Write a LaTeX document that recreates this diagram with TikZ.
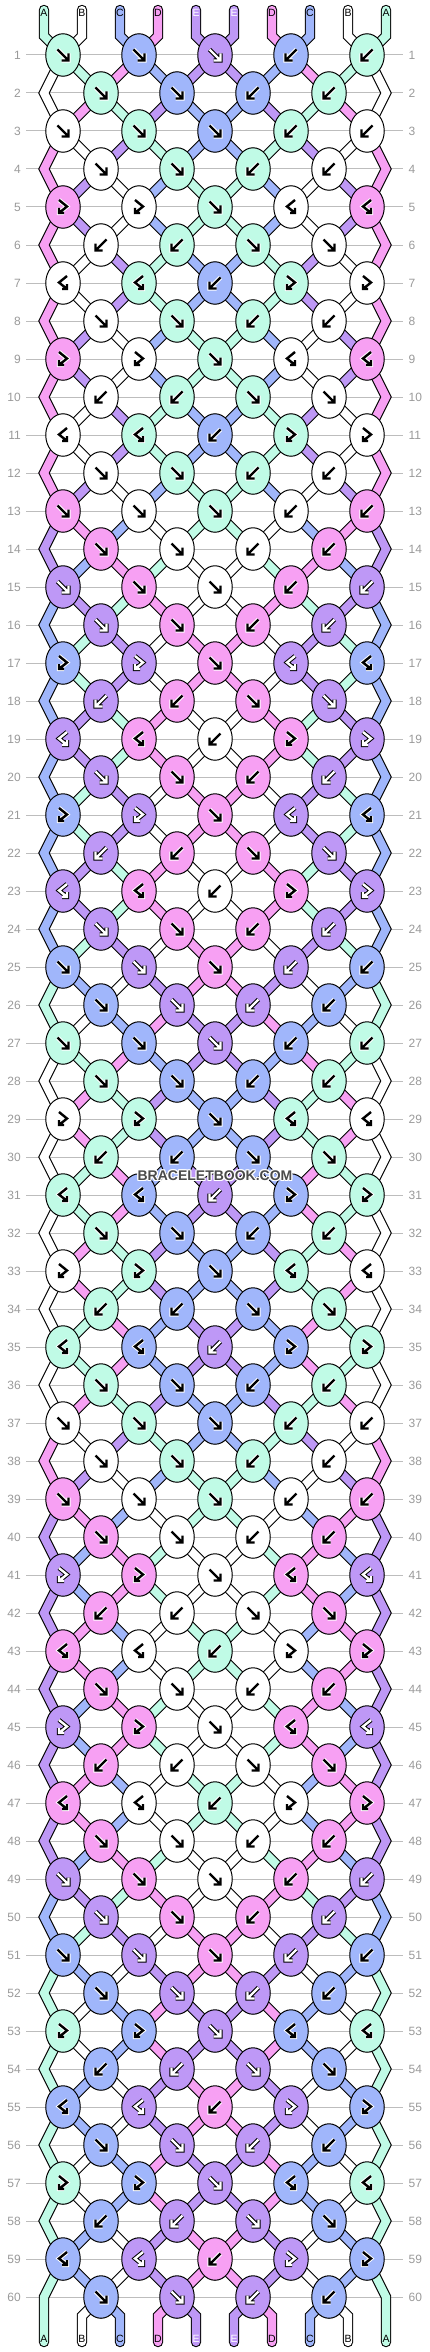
\documentclass[tikz,border=0pt]{standalone}
\usepackage{fontspec}
\setmainfont{Liberation Sans}
\usetikzlibrary{shapes.geometric}
\definecolor{colA}{HTML}{C0FBE6}
\definecolor{colB}{HTML}{FFFFFF}
\definecolor{colC}{HTML}{A0B6FB}
\definecolor{colD}{HTML}{F7A0F3}
\definecolor{colE}{HTML}{BE98F6}
\definecolor{rowgray}{HTML}{BDBDBD}
\definecolor{labgray}{HTML}{9A9A9A}
\definecolor{wmgray}{HTML}{4A4A4A}

\newcount\kx
\newcount\yy
\newcount\pp
\newcount\mm
\newcount\passmode

\newcommand\calckx[2]{%
  \ifodd#1\relax
    \ifodd#2\relax \global\kx=\numexpr 63+38*(#2-1)\relax
    \else \global\kx=\numexpr 25+38*(#2-1)\relax\fi
  \else
    \ifnum#2=1 \global\kx=44\relax
    \else\ifnum#2=10 \global\kx=386\relax
    \else\ifodd#2\relax \global\kx=\numexpr 25+38*(#2-1)\relax
    \else \global\kx=\numexpr 63+38*(#2-1)\relax\fi\fi\fi
  \fi}

\newcommand\setrowcode[1]{%
  \mm=\numexpr#1-1\relax \divide\mm by 12
  \mm=\numexpr#1-1-12*\mm\relax
  \ifnum\mm<4
    \ifodd#1\relax \gdef\rc{1,1,1,2,2}\else \gdef\rc{1,1,2,2}\fi
  \else
    \advance\mm by -4
    \ifnum\mm>3 \advance\mm by -4 \fi
    \ifcase\mm \gdef\rc{3,3,1,4,4}\or \gdef\rc{2,2,1,1}\or \gdef\rc{4,4,2,3,3}\or \gdef\rc{1,1,2,2}\fi
  \fi}

\newcommand\arrowshape[1]{%
  \ifcase#1\or
    \gdef\drawar##1{\draw[##1] (-5.5,-5.5)--(5.5,5.5) (5.5,-1.5)--(5.5,5.5)--(-1.5,5.5);}%
  \or
    \gdef\drawar##1{\draw[##1] (5.5,-5.5)--(-5.5,5.5) (-5.5,-1.5)--(-5.5,5.5)--(1.5,5.5);}%
  \or
    \gdef\drawar##1{\draw[##1] (-4,-7)--(4,-0.5)--(-4,6) (-4,1)--(-4,6)--(1,6);}%
  \or
    \gdef\drawar##1{\draw[##1] (4,-7)--(-4,-0.5)--(4,6) (4,1)--(4,6)--(-1,6);}%
  \fi}

% one string segment: outline in pass 1, colour in pass 2
\newcommand\strseg[2]{%
  \ifnum\passmode=1 \draw[bandout] #2;\fi
  \ifnum\passmode=2 \draw[bandin, draw=col#1] #2;\fi}

\newcommand\initstrings{%
  \foreach \p/\lt in {1/A,2/B,3/C,4/D,5/E,6/E,7/D,8/C,9/B,10/A}{%
    \expandafter\xdef\csname st\p\endcsname{\lt}}}

\newcommand\runpass{%
  \initstrings
  \foreach \row in {1,...,60}{%
    \global\yy=\numexpr 17+38*\row\relax
    \edef\ry{\the\yy}%
    \edef\rp{\the\numexpr\row-1\relax}%
    \edef\rpp{\the\numexpr\row-2\relax}%
    \foreach \p in {1,...,10}{\calckx{\row}{\p}\edef\kxx{\the\kx}\coordinate (c\row-\p) at (\kxx,\ry);}%
    \foreach \p in {1,...,10}{%
      \edef\scol{\csname st\p\endcsname}%
      \ifnum\row=1
        \strseg{\scol}{(t\p) -- (u\p) -- (c1-\p)}%
      \else
        \ifnum\p=1 \def\isedge{1}\else\ifnum\p=10 \def\isedge{1}\else\def\isedge{0}\fi\fi
        \if\isedge1%
          \ifodd\row\relax \strseg{\scol}{(c\rpp-\p) -- (c\rp-\p) -- (c\row-\p)}\fi
        \else
          \strseg{\scol}{(c\rp-\p) -- (c\row-\p)}%
        \fi
      \fi}%
    \setrowcode{\row}%
    \ifodd\row\relax\global\pp=1 \else\global\pp=2 \fi
    \foreach \ty in \rc {%
      \edef\sL{\csname st\the\pp\endcsname}%
      \edef\sR{\csname st\the\numexpr\pp+1\relax\endcsname}%
      \global\kx=\numexpr 25+38*\pp\relax
      \edef\kxx{\the\kx}%
      \ifcase\ty\or \edef\sK{\sL}\def\sw{1}\or \edef\sK{\sR}\def\sw{1}\or \edef\sK{\sL}\def\sw{0}\or \edef\sK{\sR}\def\sw{0}\fi
      \if\sw1%
        \expandafter\xdef\csname st\the\pp\endcsname{\sR}%
        \expandafter\xdef\csname st\the\numexpr\pp+1\relax\endcsname{\sL}%
      \fi
      \ifnum\passmode=3
        \edef\kn{k\row-\the\pp}%
        \node[knot, fill=col\sK] (\kn) at (\kxx,\ry) {};
        \if\sK E\def\arfg{white}\def\arhalo{black}\else\def\arfg{black}\def\arhalo{white}\fi
        \arrowshape{\ty}%
        \begin{scope}[shift={(\kxx,\ry)}]\drawar{arh}\drawar{arf}\end{scope}
      \fi
      \global\advance\pp by 2
    }%
  }%
  \foreach \p in {1,...,10}{%
    \edef\scol{\csname st\p\endcsname}%
    \ifnum\p=1 \strseg{\scol}{(c59-1) -- (c60-1) -- (w1)}%
    \else\ifnum\p=10 \strseg{\scol}{(c59-10) -- (c60-10) -- (w10)}%
    \else \strseg{\scol}{(c60-\p) -- (v\p) -- (w\p)}%
    \fi\fi}%
}

\begin{document}
\begin{tikzpicture}[x=1pt,y=-1pt,
  knot/.style={ellipse, draw=black, line width=1pt, minimum width=34.5pt, minimum height=42.5pt, inner sep=0pt},
  bandout/.style={line width=10.4pt, draw=black, line cap=round, line join=miter},
  bandin/.style={line width=8.2pt, line cap=round, line join=miter},
  rowline/.style={draw=rowgray, line width=1pt},
  rowlab/.style={text=labgray, font=\fontsize{12}{12}\selectfont, inner sep=0pt},
  strlab/.style={font=\fontsize{10.5}{10.5}\selectfont, inner sep=0pt},
  arh/.style={line width=4.4pt, line cap=butt, line join=miter, draw=\arhalo},
  arf/.style={line width=2.4pt, line cap=butt, line join=miter, draw=\arfg},
  wm/.style={font=\bfseries\fontsize{14}{14}\selectfont, inner sep=0pt}
]
\fill[white] (0,0) rectangle (430,2352);
\useasboundingbox (0,0) rectangle (430,2352);

% string end coordinates
\foreach \p in {1,...,10}{%
  \edef\xp{\the\numexpr 38*\p+6\relax}%
  \coordinate (t\p) at (\xp,10);
  \coordinate (u\p) at (\xp,36);
  \coordinate (v\p) at (\xp,2316);
  \coordinate (w\p) at (\xp,2342);
}

% row lines and row numbers
\foreach \row in {1,...,60}{%
  \edef\ry{\the\numexpr 17+38*\row\relax}%
  \draw[rowline] (26,\ry) -- (403,\ry);
  \node[rowlab, anchor=east] (ll\row) at (21,\ry) {\row};
  \node[rowlab, anchor=west] (lr\row) at (408.5,\ry) {\row};
}

% pass 1: band outlines, pass 2: band colours, pass 3: knots
\passmode=1 \runpass
\passmode=2 \runpass
\passmode=3 \runpass

% string labels
\foreach \p/\lt in {1/A,2/B,3/C,4/D,5/E,6/E,7/D,8/C,9/B,10/A}{%
  \edef\xp{\the\numexpr 38*\p+6\relax}%
  \if\lt E\def\lc{white}\else\def\lc{black}\fi
  \node[strlab, text=\lc] (lt\p) at (\xp,13) {\lt};
  \node[strlab, text=\lc] (lb\p) at (\xp,2339) {\lt};
}

% watermark
\foreach \dx/\dy [count=\i] in {-1/-1,-1/0,-1/1,0/-1,0/1,1/-1,1/0,1/1}{%
  \node[wm, text=white] (wmh\i) at (215+\dx,1176+\dy) {BRACELETBOOK.COM};
}
\node[wm, text=wmgray] (wm) at (215,1176) {BRACELETBOOK.COM};
\end{tikzpicture}
\end{document}
